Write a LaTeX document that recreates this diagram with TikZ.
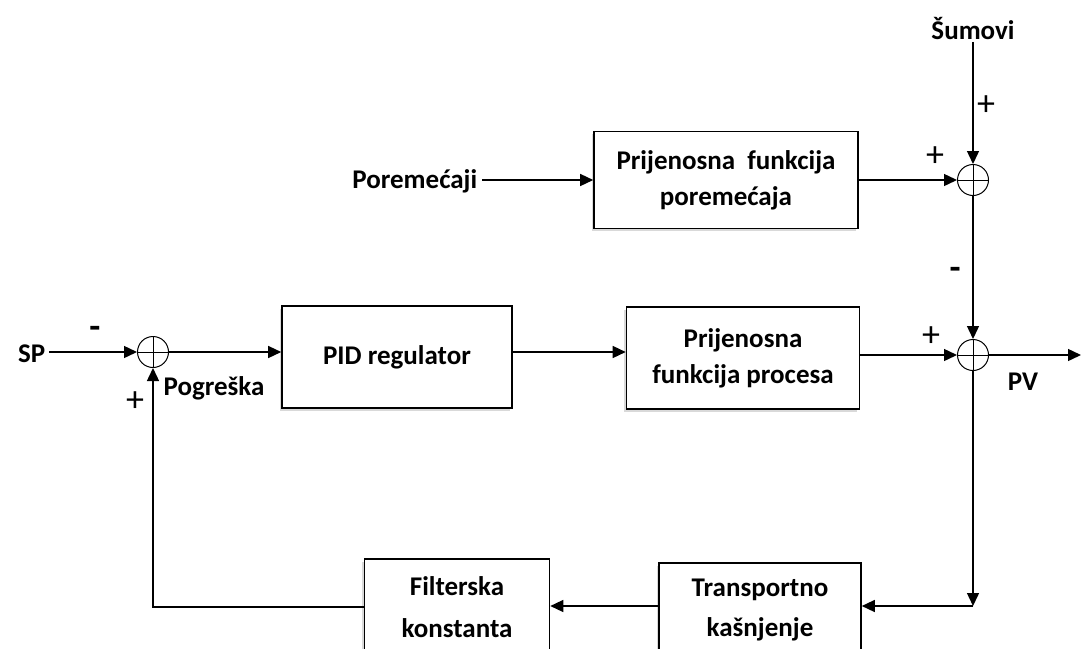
\documentclass[tikz,border=0pt]{standalone}
\usepackage{fontspec}
\setmainfont{Carlito}
\usetikzlibrary{positioning,arrows.meta,shadows}

\begin{document}
\begin{tikzpicture}[x=1pt,y=-1pt,
    font=\fontsize{27}{36}\selectfont\bfseries,
    line width=1.4pt,
    >={Triangle[length=13pt,width=12pt]},
    blok/.style={draw, fill=white, align=center, line width=1.6pt,
      drop shadow={shadow xshift=-2.5pt,shadow yshift=-2.5pt,opacity=0.3}},
    sumjn/.style={draw, circle, minimum size=31pt, inner sep=0pt, line width=1pt,
      path picture={\draw[line width=1pt]
        (path picture bounding box.north) -- (path picture bounding box.south)
        (path picture bounding box.west) -- (path picture bounding box.east);}},
    sgn/.style={inner sep=0pt, font=\fontsize{36}{38}\selectfont}]
  \useasboundingbox (0,0) rectangle (1081,648);
  \clip (0,0) rectangle (1081,648);

  % blocks
  \node[blok, minimum width=264pt, minimum height=97pt] (porfn) at (726,180)
    {Prijenosna\ \ funkcija\\poremećaja};
  \node[blok, minimum width=230pt, minimum height=102pt] (pid) at (397,357)
    {PID regulator};
  \node[blok, minimum width=233pt, minimum height=102pt] (procfn) at (743,358)
    {Prijenosna\\funkcija procesa};
  \node[blok, minimum width=185pt, minimum height=96pt] (filt) at (457,607)
    {Filterska\\[6pt]konstanta};
  \node[blok, minimum width=202pt, minimum height=94pt] (trans) at (760,610)
    {Transportno\\[4pt]kašnjenje};

  % summing junctions
  \node[sumjn] (s1) at (153,352) {};
  \node[sumjn] (s2) at (973,180) {};
  \node[sumjn] (s3) at (973,355) {};

  % inputs and outputs
  \node[anchor=east, inner sep=0pt] (sp) at (46,354) {SP};
  \node[anchor=east, inner sep=0pt] (dist) at (478,181) {Poremećaji};
  \node[inner sep=2pt] (noise) at (973,28) {Šumovi};
  \coordinate (pvend) at (1081,355);
  \coordinate (fbk) at (973,606);
  \coordinate (fbl) at (153,607);

  % signal flow
  \draw[->] ([xshift=3pt]sp.east |- s1) -- (s1);
  \draw[->] (s1) -- (pid.west |- s1);
  \draw[->] (pid.east |- s1) -- (procfn.west |- s1);
  \draw[->] (procfn.east |- s3) -- (s3);
  \draw[->] ([xshift=4pt]dist.east |- porfn) -- (porfn.west |- porfn);
  \draw[->] (porfn.east |- s2) -- (s2);
  \draw[->] (noise) -- (s2);
  \draw[->] (s2) -- (s3);
  \draw[->] (s3) -- (pvend);
  \draw[->] (s3) -- (fbk);
  \draw[->] (fbk) -- (trans.east |- fbk);
  \draw[->] (trans.west |- fbk) -- (filt.east |- fbk);
  \draw[->] (filt.west |- fbl) -- (fbl) -- (s1);

  % signs and labels
  \node[sgn] (m1) at (95,332) {\bfseries -};
  \node[sgn] (p1) at (135,402) {+};
  \node (err) at (214,388) {Pogreška};
  \node[sgn] (p2) at (986,106) {+};
  \node[sgn] (p3) at (935,157) {+};
  \node[sgn] (m2) at (955,273) {\bfseries -};
  \node[sgn] (p4) at (931,337) {+};
  \node (pv) at (1023,382) {PV};
\end{tikzpicture}
\end{document}
